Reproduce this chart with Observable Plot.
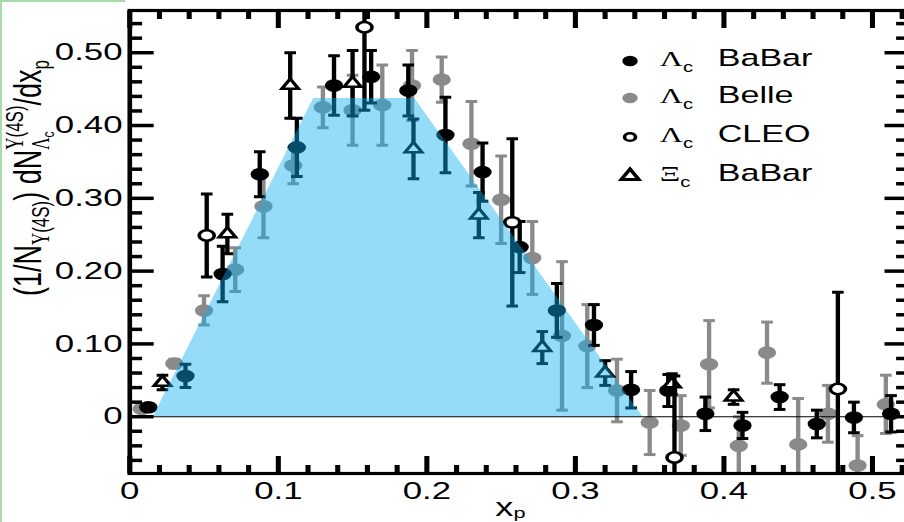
<!DOCTYPE html>
<html>
<head>
<meta charset="utf-8">
<script src="https://cdn.jsdelivr.net/npm/d3@7"></script>
<script src="https://cdn.jsdelivr.net/npm/@observablehq/plot@0.6"></script>
<style>
  html, body { margin: 0; padding: 0; background: #fff; }
  #stage { position: relative; width: 904px; height: 522px; overflow: hidden; background: #fff; }
  #inner { position: absolute; left: 0; top: 0; width: 627px; height: 522px;
           transform: scaleX(1.45); transform-origin: 0 0; }
  #inner svg.plot { position: absolute; left: 0; top: 0; }
  #ov { position: absolute; left: 0; top: 0; overflow: visible; }
  .gl { position: absolute; left: 0; top: 0; width: 2px; height: 522px; background: #a8dba8; }
  .gt { position: absolute; left: 0; top: 0; width: 125px; height: 2px; background: #a8dba8; }
</style>
</head>
<body>
<div id="stage">
  <div id="inner">
    <div id="chart"></div>
    <svg id="ov" width="627" height="522" xmlns="http://www.w3.org/2000/svg"></svg>
  </div>
  <div class="gl"></div><div class="gt"></div>
</div>
<script>
// ---------------- data ----------------
// Λc BaBar (filled black circles)
const babarX   = [0.0125,0.0375,0.0625,0.0875,0.1125,0.1375,0.1625,0.1875,0.2125,0.2375,0.2625,0.2875,0.3125,0.3375,0.3625,0.3875,0.4125,0.4375,0.4625,0.4875,0.5125];
const babarY   = [0.013,0.056,0.196,0.333,0.370,0.455,0.467,0.448,0.387,0.336,0.233,0.146,0.126,0.037,0.036,0.004,-0.012,0.027,-0.010,-0.001,0.004];
const babarErr = [0.003,0.016,0.038,0.031,0.040,0.041,0.036,0.035,0.052,0.040,0.035,0.037,0.028,0.025,0.022,0.023,0.018,0.017,0.019,0.021,0.025];
// Λc Belle (filled gray circles)
const belleX   = [0.008,0.030,0.050,0.071,0.090,0.110,0.130,0.150,0.170,0.190,0.210,0.230,0.250,0.271,0.291,0.308,0.328,0.350,0.371,0.390,0.410,0.429,0.450,0.470,0.490,0.509];
const belleY   = [0.011,0.073,0.146,0.202,0.289,0.345,0.425,0.421,0.428,0.455,0.463,0.375,0.298,0.218,0.111,0.097,0.036,-0.008,-0.012,0.072,-0.040,0.088,-0.038,0.004,-0.067,0.017];
const belleErr = [0.003,0.006,0.020,0.030,0.043,0.025,0.028,0.048,0.055,0.048,0.031,0.058,0.060,0.050,0.102,0.057,0.043,0.044,0.041,0.060,0.040,0.042,0.063,0.039,0.041,0.040];
// Λc CLEO (open circles)
const cleoX    = [0.0518,0.158,0.2575,0.3667,0.4767];
const cleoY    = [0.249,0.535,0.267,-0.056,0.038];
const cleoErr  = [0.057,0.114,0.115,0.112,0.133];
// Ξc BaBar (open triangles)
const xiX      = [0.022,0.0657,0.108,0.150,0.191,0.235,0.2777,0.320,0.365,0.4065];
const xiY      = [0.047,0.251,0.455,0.458,0.368,0.277,0.095,0.060,0.045,0.027];
const xiErr    = [0.010,0.027,0.045,0.045,0.041,0.031,0.022,0.017,0.014,0.010];
// shaded model region
const bandX    = [0.016,0.124,0.192,0.3455];
const bandY    = [0,0.437,0.437,0];
// axes
const xMajor = [0,0.1,0.2,0.3,0.4,0.5];
const xMajorLabels = ["0","0.1","0.2","0.3","0.4","0.5"];
const xMinor = [0.02,0.04,0.06,0.08,0.12,0.14,0.16,0.18,0.22,0.24,0.26,0.28,0.32,0.34,0.36,0.38,0.42,0.44,0.46,0.48,0.52];
const yMajor = [0,0.1,0.2,0.3,0.4,0.5];
const yMajorLabels = ["0","0.10","0.20","0.30","0.40","0.50"];
const yMinor = [-0.06,-0.04,-0.02,0.02,0.04,0.06,0.08,0.12,0.14,0.16,0.18,0.22,0.24,0.26,0.28,0.32,0.34,0.36,0.38,0.42,0.44,0.46,0.48,0.52,0.54];
const legendItems = [
  {sym: "babar", greek: "Λ", name: "BaBar"},
  {sym: "belle", greek: "Λ", name: "Belle"},
  {sym: "cleo",  greek: "Λ", name: "CLEO"},
  {sym: "xi",    greek: "Ξ", name: "BaBar"}
];

// ---------------- build tables ----------------
const rows = (X, Y, E) => X.map((x, i) => ({x, y: Y[i], e: E[i]}));
const babar = rows(babarX, babarY, babarErr);
const belle = rows(belleX, belleY, belleErr);
const cleo  = rows(cleoX, cleoY, cleoErr);
const xi    = rows(xiX, xiY, xiErr);
const band  = bandX.map((x, i) => ({x, y: bandY[i]}));

const GRAY = "#8a8a8a";
const capSymbol = {
  draw(ctx, size) { const r = Math.sqrt(size / Math.PI); ctx.moveTo(-r, 0); ctx.lineTo(r, 0); }
};
function errorMarks(data, color) {
  return [
    Plot.ruleX(data, {x: "x", y1: d => d.y - d.e, y2: d => d.y + d.e, stroke: color, strokeWidth: 3, clip: true}),
    Plot.dot(data, {x: "x", y: d => d.y + d.e, symbol: capSymbol, r: 4, stroke: color, strokeWidth: 3, fill: "none", clip: true}),
    Plot.dot(data, {x: "x", y: d => d.y - d.e, symbol: capSymbol, r: 4, stroke: color, strokeWidth: 3, fill: "none", clip: true})
  ];
}
const fmtX = d => xMajorLabels[xMajor.indexOf(d)];
const fmtY = d => yMajorLabels[yMajor.indexOf(d)];

const chart = Plot.plot({
  width: 627, height: 522,
  marginLeft: 89, marginRight: 1, marginTop: 10, marginBottom: 49,
  x: {domain: [0, 0.5242]},
  y: {domain: [-0.078, 0.558]},
  style: {fontFamily: "'Liberation Sans', Arial, sans-serif", fontSize: "24px", color: "#000", background: "transparent", overflow: "visible"},
  marks: [
    ...errorMarks(belle, GRAY),
    Plot.dot(belle, {x: "x", y: "y", r: 6.3, fill: GRAY, clip: true}),
    ...errorMarks(babar, "#000"),
    Plot.dot(babar, {x: "x", y: "y", r: 6.3, fill: "#000", clip: true}),
    ...errorMarks(xi, "#000"),
    Plot.dot(xi, {x: "x", y: "y", symbol: "triangle", r: 4.3, fill: "#fff", stroke: "#000", strokeWidth: 2.5, clip: true}),
    ...errorMarks(cleo, "#000"),
    Plot.dot(cleo, {x: "x", y: "y", r: 5.2, fill: "#fff", stroke: "#000", strokeWidth: 2.5, clip: true}),
    Plot.areaY(band, {x: "x", y: "y", fill: "rgb(14,175,239)", fillOpacity: 0.44}),
    Plot.ruleY([0], {stroke: "#000", strokeWidth: 1}),
    // tick labels
    Plot.axisX({ticks: xMajor, tickSize: 0, tickPadding: 8, tickFormat: fmtX, label: null}),
    Plot.axisY({ticks: yMajor, tickSize: 0, tickPadding: 5, tickFormat: fmtY, label: null}),
    // inward ticks on all four sides
    Plot.axisX({anchor: "bottom", ticks: xMajor, tickSize: -17, strokeWidth: 3.5, fill: "none", label: null}),
    Plot.axisX({anchor: "bottom", ticks: xMinor, tickSize: -8, strokeWidth: 3.5, fill: "none", label: null}),
    Plot.axisX({anchor: "top", ticks: xMajor, tickSize: -17, strokeWidth: 3.5, fill: "none", label: null}),
    Plot.axisX({anchor: "top", ticks: xMinor, tickSize: -8, strokeWidth: 3.5, fill: "none", label: null}),
    Plot.axisY({anchor: "left", ticks: yMajor, tickSize: -17, strokeWidth: 3.5, fill: "none", label: null}),
    Plot.axisY({anchor: "left", ticks: yMinor, tickSize: -9, strokeWidth: 3.5, fill: "none", label: null}),
    Plot.axisY({anchor: "right", ticks: yMajor, tickSize: -17, strokeWidth: 3.5, fill: "none", label: null}),
    Plot.axisY({anchor: "right", ticks: yMinor, tickSize: -9, strokeWidth: 3.5, fill: "none", label: null}),
    Plot.frame({stroke: "#000", strokeWidth: 3.2})
  ]
});
chart.classList.add("plot");
document.getElementById("chart").appendChild(chart);

// ---------------- rich text (titles, legend) ----------------
const NS = "http://www.w3.org/2000/svg";
const ov = document.getElementById("ov");
const SANS = "'Liberation Sans', Arial, sans-serif";
const SERIF = "'Liberation Serif', 'Times New Roman', serif";
function run(g, x, p) {
  const t = document.createElementNS(NS, "text");
  t.setAttribute("x", x); t.setAttribute("y", p.dy || 0);
  t.setAttribute("font-family", p.serif ? SERIF : SANS);
  t.setAttribute("font-size", p.size);
  t.setAttribute("fill", "#000");
  t.textContent = p.t;
  g.appendChild(t);
  return t.getComputedTextLength();
}
function rich(parent, parts) {
  const g = document.createElementNS(NS, "g");
  parent.appendChild(g);
  let cx = 0;
  for (const p of parts) {
    if (p.stack) {
      let w = 0;
      for (const line of p.stack) { let lx = cx; for (const q of line) lx += run(g, lx, q); w = Math.max(w, lx - cx); }
      cx += w;
    } else cx += run(g, cx, p);
  }
  return {g, w: cx};
}

// y-axis title, rotated
{
  const outer = document.createElementNS(NS, "g");
  outer.setAttribute("transform", "translate(28,178) rotate(-90)");
  ov.appendChild(outer);
  const M = 27, s = 17, ss = 12;
  const {g, w} = rich(outer, [
    {t: "(1/N", size: M},
    {t: "Υ", size: s, serif: true, dy: 6},
    {t: "(4S)", size: s, dy: 6},
    {t: ") dN", size: M},
    {stack: [
      [{t: "Υ", size: s, serif: true, dy: -12}, {t: "(4S)", size: s, dy: -12}],
      [{t: "Λ", size: s, serif: true, dy: 6}, {t: "c", size: ss, dy: 9}]
    ]},
    {t: "/dx", size: M},
    {t: "p", size: s, dy: 6}
  ]);
  g.setAttribute("transform", `translate(${-w / 2},0)`);
}
// x-axis title
{
  const {g, w} = rich(ov, [{t: "x", size: 25}, {t: "p", size: 15, dy: 2}]);
  g.setAttribute("transform", `translate(${352 - w / 2},516)`);
}
// legend
{
  const baselines = [66, 103, 142, 181];
  legendItems.forEach((it, i) => {
    const b = baselines[i];
    const mx = 434.5, my = b - 5;
    let m;
    if (it.sym === "babar" || it.sym === "belle") {
      m = document.createElementNS(NS, "circle");
      m.setAttribute("cx", mx); m.setAttribute("cy", my); m.setAttribute("r", 5.3);
      m.setAttribute("fill", it.sym === "babar" ? "#000" : GRAY);
    } else if (it.sym === "cleo") {
      m = document.createElementNS(NS, "circle");
      m.setAttribute("cx", mx); m.setAttribute("cy", my); m.setAttribute("r", 3.8);
      m.setAttribute("fill", "#fff"); m.setAttribute("stroke", "#000"); m.setAttribute("stroke-width", 2.5);
    } else {
      const path = d3.path(); d3.symbolTriangle.draw(path, Math.PI * 4.5 * 4.5);
      m = document.createElementNS(NS, "path");
      m.setAttribute("d", path.toString()); m.setAttribute("transform", `translate(${mx},${my})`);
      m.setAttribute("fill", "#fff"); m.setAttribute("stroke", "#000"); m.setAttribute("stroke-width", 2.8);
    }
    ov.appendChild(m);
    const a = rich(ov, [{t: it.greek, size: 22, serif: true}, {t: "c", size: 14, dy: 6}]);
    a.g.setAttribute("transform", `translate(455,${b})`);
    const n = rich(ov, [{t: it.name, size: 23.5}]);
    n.g.setAttribute("transform", `translate(495,${b})`);
  });
}
</script>
</body>
</html>
